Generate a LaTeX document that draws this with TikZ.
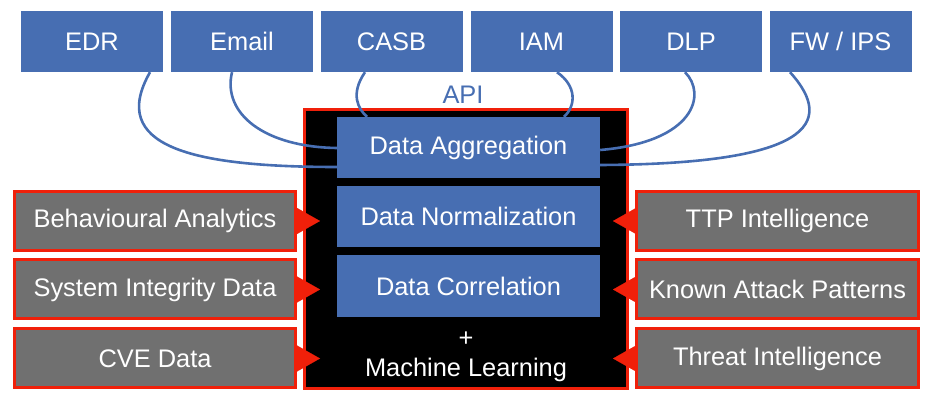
\documentclass[tikz,border=0pt]{standalone}
\usepackage{fontspec}
\setmainfont{Liberation Sans}
\usetikzlibrary{arrows.meta}
\definecolor{toolblue}{RGB}{71,110,178}
\definecolor{feedgray}{RGB}{112,112,112}
\definecolor{alertred}{RGB}{240,32,10}
\tikzset{
  tool/.style={fill=toolblue, text=white, minimum width=142pt, minimum height=61pt, inner sep=0pt},
  stage/.style={fill=toolblue, text=white, minimum width=263pt, minimum height=61pt, inner sep=0pt},
  feed/.style={fill=feedgray, text=white, draw=alertred, line width=3pt, minimum width=281pt, minimum height=59pt, inner sep=0pt},
  link/.style={draw=toolblue, line width=2.6pt},
  push/.style={draw=alertred, line width=0.1pt, -{Triangle[length=23pt,width=26pt]}, fill=alertred}
}
\begin{document}
\begin{tikzpicture}[x=1pt, y=1pt, font=\fontsize{25.4}{30}\selectfont]
      \useasboundingbox (0,0) rectangle (937,404);
      \draw
        (92,362.5) node[tool] (edr){EDR}
        (242,362.5) node[tool] (email){Email}
        (391.5,362.5) node[tool] (casb){CASB}
        (541.5,362.5) node[tool] (iam){IAM}
        (691,362.5) node[tool] (dlp){DLP}
        (840.5,362.5) node[tool] (fw){FW / IPS};
      \node[text=toolblue] (api) at (463,309) {API};
      \node[fill=black, draw=alertred, line width=3pt, minimum width=323pt, minimum height=279pt] (core) at (466,155) {};
      \draw
        (468.5,256.5) node[stage] (agg){Data Aggregation}
        (468.5,187.5) node[stage] (norm){Data Normalization}
        (468.5,118) node[stage, minimum height=62pt] (corr){Data Correlation};
      \begin{scope}[link]
        \draw ([xshift=58pt]edr.south) .. controls (108,258) and (190,237) .. ([yshift=-19.5pt]agg.west);
        \draw ([xshift=-10pt]email.south) .. controls (222,290) and (265,257) .. ([yshift=-0.5pt]agg.west);
        \draw ([xshift=-26.5pt]casb.south) .. controls (350,310) and (358,295) .. ([xshift=-101.5pt]agg.north);
        \draw ([xshift=15.5pt]iam.south) .. controls (577,318) and (576,298) .. ([xshift=95.5pt]agg.north);
        \draw ([xshift=-6pt]dlp.south) .. controls (707,310) and (695,262) .. ([yshift=-2.5pt]agg.east);
        \draw ([xshift=-50.5pt]fw.south) .. controls (837,280) and (808,240) .. ([yshift=-17.5pt]agg.east);
      \end{scope}
      \node[text=white, align=center, inner sep=0pt] (ml) at (466,47) {+\\Machine Learning};
      \draw
        (155,183) node[feed] (beh){Behavioural Analytics}
        (155,114.5) node[feed] (sid){System Integrity Data}
        (155,45.5) node[feed] (cve){CVE Data}
        (777.5,183) node[feed, minimum width=282pt] (ttp){TTP Intelligence}
        (777.5,114.5) node[feed, minimum width=282pt] (kap){Known Attack Patterns}
        (777.5,45.5) node[feed, minimum width=282pt] (ti){Threat Intelligence};
      \begin{scope}[push]
        \draw (beh.east) -- ([xshift=17pt]core.west |- beh.east);
        \draw (sid.east) -- ([xshift=17pt]core.west |- sid.east);
        \draw (cve.east) -- ([xshift=17pt]core.west |- cve.east);
        \draw (ttp.west) -- ([xshift=-16pt]core.east |- ttp.west);
        \draw (kap.west) -- ([xshift=-16pt]core.east |- kap.west);
        \draw (ti.west) -- ([xshift=-16pt]core.east |- ti.west);
      \end{scope}
    \end{tikzpicture}
\end{document}
